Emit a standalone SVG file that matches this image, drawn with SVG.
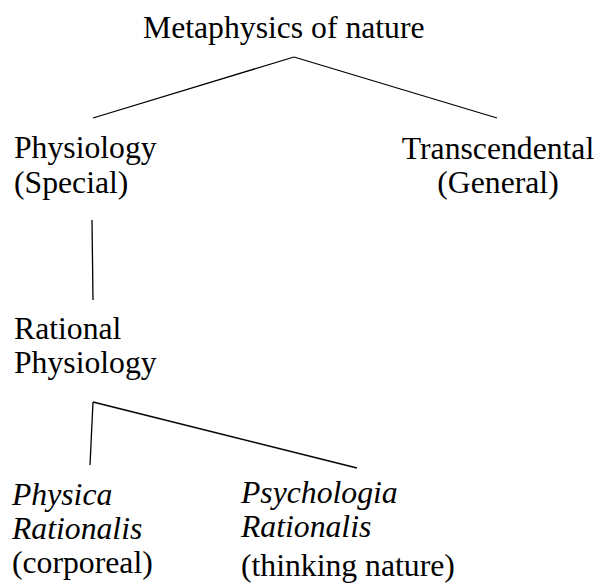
<svg xmlns="http://www.w3.org/2000/svg" width="597" height="583" viewBox="0 0 597 583">
<style>
.t{font-family:'Liberation Serif','Times New Roman','DejaVu Serif',serif;font-size:31.7px;fill:#000}
.i{font-style:italic}
.c line{stroke:#000;stroke-width:1.3}
</style>
<rect width="597" height="583" fill="#fff"/>
<g class="c" id="connectors">
<line x1="294" y1="57" x2="93" y2="118"/>
<line x1="294" y1="57" x2="497" y2="118"/>
<line x1="92" y1="220" x2="93" y2="300"/>
<line x1="93" y1="402" x2="90" y2="465"/>
<line x1="93" y1="402" x2="357" y2="468"/>
</g>
<g class="t">
<g id="metaphysics"><text x="143" y="38">Metaphysics of nature</text></g>
<g id="physiology"><text x="14" y="158">Physiology</text><text x="14" y="193">(Special)</text></g>
<g id="transcendental"><text x="498" y="159" text-anchor="middle">Transcendental</text><text x="498" y="193" text-anchor="middle">(General)</text></g>
<g id="rational"><text x="14" y="339">Rational</text><text x="14" y="373">Physiology</text></g>
<g id="physica"><text class="i" x="12" y="505">Physica</text><text class="i" x="12" y="539">Rationalis</text><text x="12" y="573">(corporeal)</text></g>
<g id="psychologia"><text class="i" x="241" y="503">Psychologia</text><text class="i" x="241" y="537">Rationalis</text><text x="241" y="576">(thinking nature)</text></g>
</g>
</svg>
